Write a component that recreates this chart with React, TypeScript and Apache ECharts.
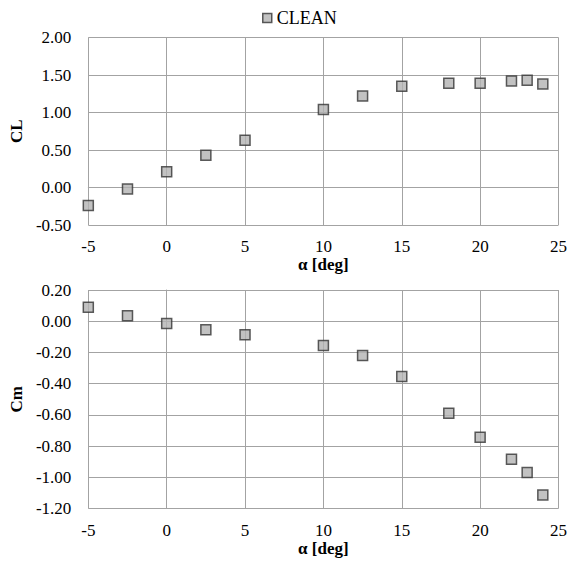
import React, { useEffect, useRef } from "react";
import * as echarts from "echarts";

const alpha = [-5, -2.5, 0, 2.5, 5, 10, 12.5, 15, 18, 20, 22, 23, 24];
const clValues = [-0.24, -0.02, 0.21, 0.43, 0.63, 1.04, 1.22, 1.35, 1.39, 1.39, 1.42, 1.43, 1.38];
const cmValues = [0.09, 0.035, -0.015, -0.055, -0.087, -0.155, -0.22, -0.355, -0.59, -0.743, -0.885, -0.97, -1.113];
const seriesName = "CLEAN";
const xTitle = "α [deg]";

const FONT = "'Liberation Serif', 'Times New Roman', Times, serif";

export default function App() {
  const ref = useRef<HTMLDivElement>(null);
  useEffect(() => {
    if (!ref.current) return;
    const chart = echarts.init(ref.current, undefined, { renderer: "svg" });
    const markerStyle = { color: "#b3b3b3", borderColor: "#333333", borderWidth: 1.5 };
    const gridLine = { show: true, lineStyle: { color: "#a3a3a3", width: 1 } };
    const titleStyle = { fontFamily: FONT, fontSize: 17, fontWeight: "bold", color: "#000" };
    const xAxisBase = (gridIndex: number) => ({
      type: "value",
      gridIndex,
      min: -5,
      max: 25,
      interval: 5,
      name: xTitle,
      nameLocation: "middle",
      nameGap: 31,
      nameTextStyle: titleStyle,
      axisLine: { show: true, lineStyle: { color: "#a3a3a3" } },
      axisTick: { show: false },
      axisLabel: { fontFamily: FONT, fontSize: 17, color: "#000", margin: 13 },
      splitLine: gridLine,
    });
    const yAxisBase = (gridIndex: number, min: number, max: number, interval: number, name: string) => ({
      type: "value",
      gridIndex,
      min,
      max,
      interval,
      name,
      nameLocation: "middle",
      nameGap: 57,
      nameTextStyle: titleStyle,
      axisLine: { show: true, lineStyle: { color: "#a3a3a3" } },
      axisTick: { show: false },
      axisLabel: {
        fontFamily: FONT,
        fontSize: 17,
        color: "#000",
        margin: 17,
        padding: [4, 0, 0, 0],
        formatter: (v: number) => v.toFixed(2),
      },
      splitLine: gridLine,
    });
    chart.setOption({
      animation: false,
      backgroundColor: "#fff",
      textStyle: { fontFamily: FONT },
      legend: {
        data: [seriesName],
        top: 4,
        left: 257,
        icon: "rect",
        itemWidth: 9,
        itemHeight: 9,
        textStyle: { fontFamily: FONT, fontSize: 18, color: "#000" },
        itemStyle: markerStyle,
      },
      grid: [
        { left: 88, top: 37.5, right: 15.5, height: 187.5 },
        { left: 88, top: 290, right: 15.5, height: 218.5 },
      ],
      xAxis: [xAxisBase(0), xAxisBase(1)],
      yAxis: [
        yAxisBase(0, -0.5, 2, 0.5, "CL"),
        yAxisBase(1, -1.2, 0.2, 0.2, "Cm"),
      ],
      series: [
        {
          name: seriesName,
          type: "scatter",
          xAxisIndex: 0,
          yAxisIndex: 0,
          symbol: "rect",
          symbolSize: 10,
          itemStyle: markerStyle,
          data: alpha.map((a, i) => [a, clValues[i]]),
        },
        {
          name: seriesName,
          type: "scatter",
          xAxisIndex: 1,
          yAxisIndex: 1,
          symbol: "rect",
          symbolSize: 10,
          itemStyle: markerStyle,
          data: alpha.map((a, i) => [a, cmValues[i]]),
        },
      ],
    });
    return () => chart.dispose();
  }, []);
  return <div ref={ref} style={{ width: 574, height: 563, position: "absolute", left: 0, top: 0 }} />;
}
